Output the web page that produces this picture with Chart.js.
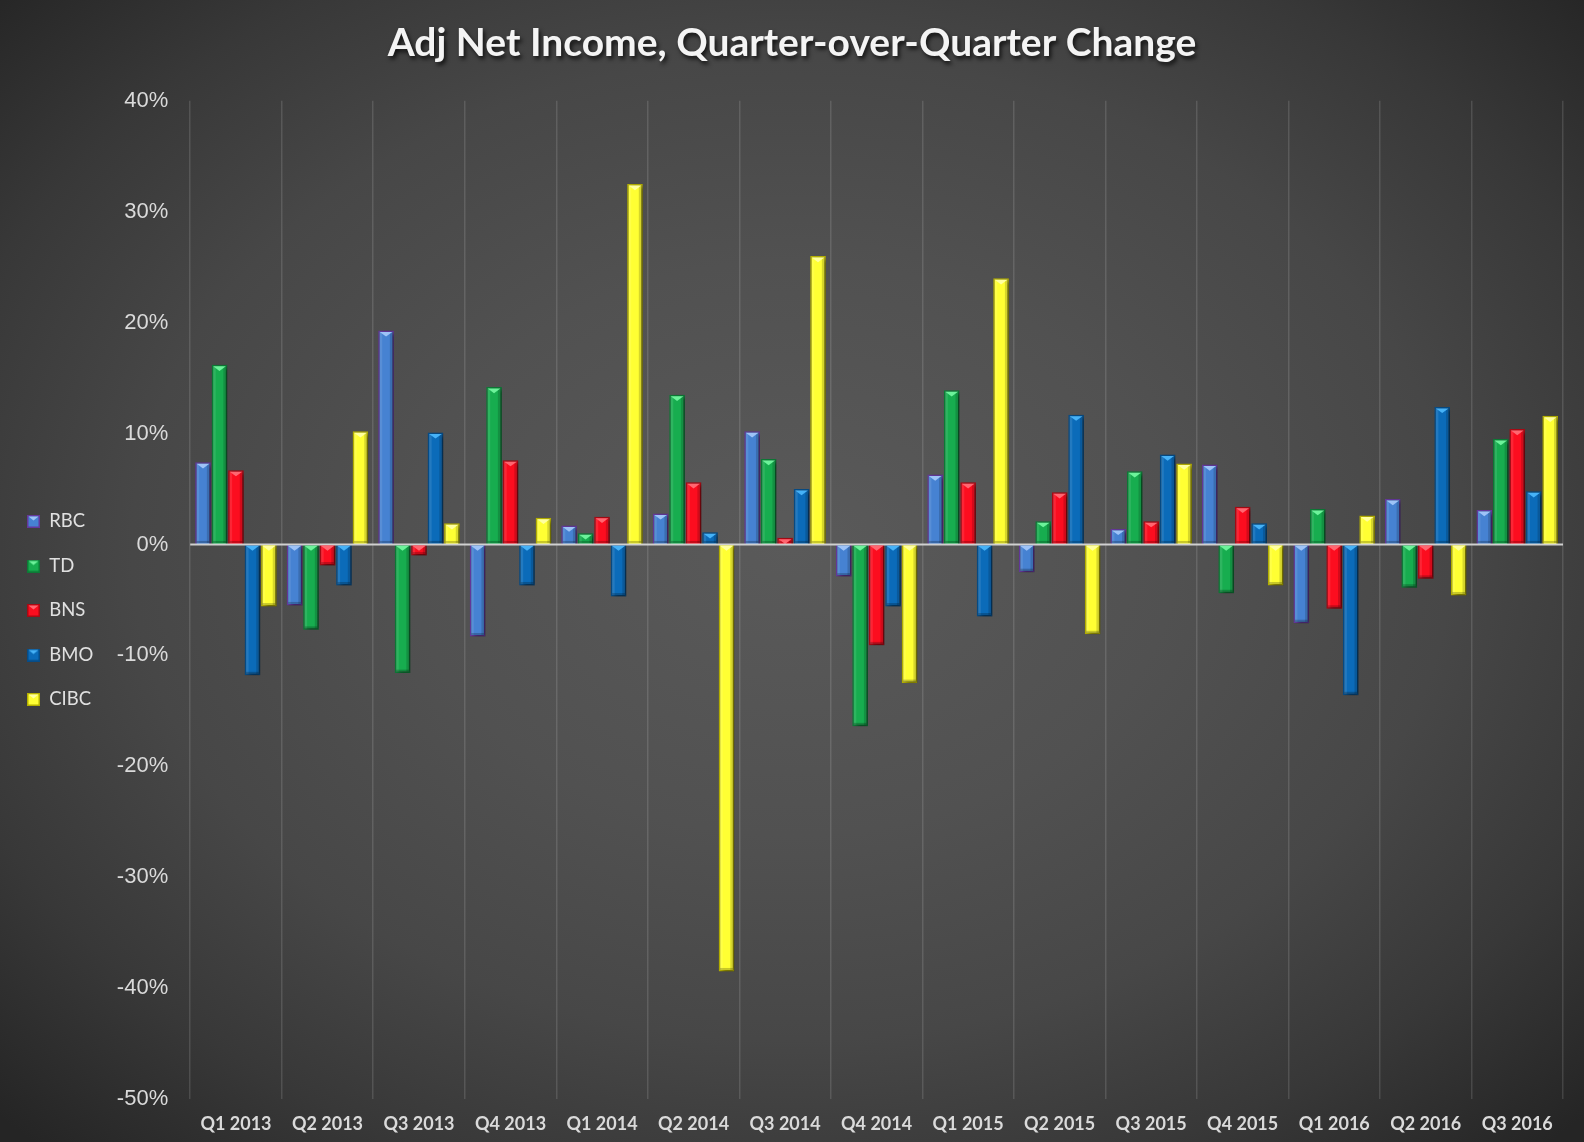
<!DOCTYPE html>
<html>
<head>
<meta charset="utf-8">
<script src="https://cdn.jsdelivr.net/npm/chart.js@4.4.1/dist/chart.umd.min.js"></script>
<style>
  html, body { margin: 0; padding: 0; }
  body {
    width: 1584px; height: 1142px; overflow: hidden;
    background: radial-gradient(ellipse 1100px 820px at 50% 48%, #5a5a5a 0%, #515151 35%, #474747 60%, #383838 80%, #252525 100%);
  }
  #c { display: block; }
</style>
</head>
<body>
<canvas id="c" width="1584" height="1142"></canvas>
<script>
// ---- data (percent, quarter-over-quarter change) ----
const categories = ['Q1 2013','Q2 2013','Q3 2013','Q4 2013','Q1 2014','Q2 2014','Q3 2014','Q4 2014',
                    'Q1 2015','Q2 2015','Q3 2015','Q4 2015','Q1 2016','Q2 2016','Q3 2016'];
const seriesNames = ['RBC', 'TD', 'BNS', 'BMO', 'CIBC'];
const rbc  = [7.4, -5.5, 19.3, -8.3, 1.7, 2.8, 10.2, -2.9, 6.3, -2.5, 1.4, 7.2, -7.1, 4.1, 3.1];
const td   = [16.2, -7.7, -11.6, 14.2, 1.0, 13.5, 7.7, -16.4, 13.9, 2.1, 6.6, -4.4, 3.2, -3.9, 9.5];
const bns  = [6.7, -1.9, -1.0, 7.6, 2.5, 5.6, 0.6, -9.1, 5.6, 4.7, 2.1, 3.4, -5.8, -3.1, 10.4];
const bmo  = [-11.8, -3.7, 10.1, -3.7, -4.7, 1.1, 5.0, -5.6, -6.5, 11.7, 8.1, 1.9, -13.6, 12.4, 4.8];
const cibc = [-5.6, 10.2, 1.9, 2.4, 32.5, -38.5, 26.0, -12.5, 24.0, -8.1, 7.3, -3.7, 2.6, -4.6, 11.6];
const yTickValues = [-50, -40, -30, -20, -10, 0, 10, 20, 30, 40];

// ---- styles ----
const seriesStyle = [
  { fill: '#4682d2', border: '#64389c', cap: '#9ec3f7' },
  { fill: '#17ad4f', border: '#0d7a36', cap: '#6cf29a' },
  { fill: '#fc0d1f', border: '#a80a14', cap: '#ff6670' },
  { fill: '#0b6bb9', border: '#074c86', cap: '#46b2f7' },
  { fill: '#ffff33', border: '#b5b000', cap: '#ffffa0' }
];
const seriesValues = [rbc, td, bns, bmo, cibc];

function makeSwatch(st) {
  const cv = document.createElement('canvas');
  cv.width = 13; cv.height = 13;
  const g = cv.getContext('2d');
  g.fillStyle = st.border; g.fillRect(0, 0, 13, 13);
  g.fillStyle = st.fill; g.fillRect(1.5, 1.5, 10, 10);
  g.beginPath(); g.moveTo(1.5, 1.5); g.lineTo(11.5, 1.5); g.lineTo(6.5, 5.5); g.closePath();
  g.fillStyle = st.cap; g.fill();
  return cv;
}
const swatches = seriesStyle.map(makeSwatch);

const datasets = seriesNames.map((name, i) => ({
  label: name,
  data: seriesValues[i],
  backgroundColor: seriesStyle[i].fill,
  borderColor: seriesStyle[i].border,
  borderWidth: 1.5,
  capColor: seriesStyle[i].cap,
  categoryPercentage: 0.9,
  barPercentage: 0.95
}));

const bevelPlugin = {
  id: 'bevel',
  beforeDraw(chart) {
    const t = chart.titleBlock;
    if (t && !t._shadowWrapped) {
      const orig = t.draw.bind(t);
      t.draw = function () {
        const c = chart.ctx;
        c.save();
        c.translate(10, 0);
        c.shadowColor = 'rgba(0,0,0,0.75)';
        c.shadowBlur = 4;
        c.shadowOffsetX = 2;
        c.shadowOffsetY = 3;
        orig();
        c.restore();
      };
      t._shadowWrapped = true;
    }
  },
  beforeDatasetsDraw(chart) {
    const c = chart.ctx;
    c.save();
    c.shadowColor = 'rgba(0,0,0,0.45)';
    c.shadowBlur = 4;
    c.shadowOffsetX = 3;
    c.shadowOffsetY = 2;
  },
  afterDatasetsDraw(chart) {
    const c = chart.ctx;
    c.restore();
    c.save();
    chart.data.datasets.forEach((ds, di) => {
      const meta = chart.getDatasetMeta(di);
      meta.data.forEach(bar => {
        const p = bar.getProps(['x', 'y', 'base', 'width'], true);
        const top = Math.min(p.y, p.base), bot = Math.max(p.y, p.base);
        const h = bot - top;
        const l = p.x - p.width / 2, r = p.x + p.width / 2;
        if (h < 2) return;
        c.fillStyle = 'rgba(255,255,255,0.10)';
        c.fillRect(l + 1.5, top + 1.5, 2.5, h - 3);
        c.fillStyle = 'rgba(0,0,0,0.16)';
        c.fillRect(r - 4, top + 1.5, 2.5, h - 3);
        c.fillStyle = 'rgba(0,0,0,0.22)';
        c.fillRect(l + 1.5, bot - 3.5, p.width - 3, 2);
        const th = Math.min(p.width * 0.3, h - 2);
        c.beginPath();
        c.moveTo(l + 1.5, top + 1.5);
        c.lineTo(r - 1.5, top + 1.5);
        c.lineTo(p.x, top + 1.5 + th);
        c.closePath();
        c.fillStyle = ds.capColor;
        c.fill();
      });
    });
    const ys = chart.scales.y, ca = chart.chartArea;
    const z = ys.getPixelForValue(0);
    c.strokeStyle = '#d0d0d0';
    c.lineWidth = 2;
    c.beginPath();
    c.moveTo(ca.left, z);
    c.lineTo(ca.right, z);
    c.stroke();
    c.restore();
  }
};

new Chart(document.getElementById('c'), {
  type: 'bar',
  data: { labels: categories, datasets },
  plugins: [bevelPlugin],
  options: {
    responsive: false,
    animation: false,
    devicePixelRatio: 1,
    layout: { padding: { left: 1, right: 21, top: 0, bottom: 8 } },
    plugins: {
      title: {
        display: true,
        text: 'Adj Net Income, Quarter-over-Quarter Change',
        color: '#f4f4f4',
        font: { family: 'Lato', size: 39, weight: 'bold' },
        padding: { top: 20, bottom: 34 }
      },
      legend: {
        position: 'left',
        title: { display: true, text: ' ', padding: { top: 75, bottom: 0 }, font: { size: 10 } },
        labels: {
          color: '#e0e0e0',
          font: { family: 'Lato', size: 18.5 },
          boxWidth: 13,
          boxHeight: 13,
          padding: 26,
          usePointStyle: true,
          generateLabels(chart) {
            const items = Chart.defaults.plugins.legend.labels.generateLabels(chart);
            return items.map((it, i) => Object.assign(it, { pointStyle: swatches[i] }));
          }
        }
      },
      tooltip: { enabled: false }
    },
    scales: {
      x: {
        afterFit(scale) { scale.height = 35; },
        grid: { display: true, color: 'rgba(255,255,255,0.13)', lineWidth: 1.5, drawTicks: false, offset: true },
        border: { display: false },
        ticks: { color: '#dadada', font: { family: 'Lato', size: 18, weight: 'bold' }, padding: 14, maxRotation: 0, autoSkip: false }
      },
      y: {
        min: -50, max: 40,
        afterBuildTicks(scale) { scale.ticks = yTickValues.map(v => ({ value: v })); },
        afterFit(scale) { scale.width = 87; },
        grid: { display: false, drawTicks: false },
        border: { display: false },
        ticks: {
          color: '#dadada',
          font: { family: 'Liberation Sans', size: 22 },
          padding: 22,
          callback: v => v + '%'
        }
      }
    }
  }
});
</script>
</body>
</html>
